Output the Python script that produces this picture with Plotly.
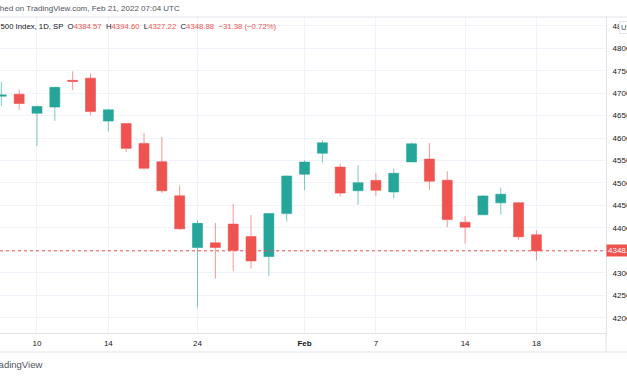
import plotly.graph_objects as go

# ---- data (S&P 500 daily) ----
dates = ["2022-01-03", "2022-01-04", "2022-01-05", "2022-01-06", "2022-01-07",
         "2022-01-10", "2022-01-11", "2022-01-12", "2022-01-13", "2022-01-14",
         "2022-01-18", "2022-01-19", "2022-01-20", "2022-01-21", "2022-01-24",
         "2022-01-25", "2022-01-26", "2022-01-27", "2022-01-28", "2022-01-31",
         "2022-02-01", "2022-02-02", "2022-02-03", "2022-02-04", "2022-02-07",
         "2022-02-08", "2022-02-09", "2022-02-10", "2022-02-11", "2022-02-14",
         "2022-02-15", "2022-02-16", "2022-02-17", "2022-02-18"]
opens = [4778.14, 4804.51, 4787.99, 4693.39, 4697.66,
         4655.34, 4669.14, 4728.59, 4733.56, 4637.99,
         4632.24, 4588.03, 4547.35, 4471.38, 4356.32,
         4366.64, 4408.43, 4380.58, 4336.19, 4431.79,
         4519.57, 4566.39, 4535.41, 4482.79, 4505.75,
         4480.02, 4547.00, 4553.24, 4506.27, 4412.61,
         4429.28, 4455.75, 4456.06, 4384.57]
highs = [4796.64, 4818.62, 4797.70, 4725.01, 4707.95,
         4673.02, 4714.13, 4748.83, 4744.13, 4665.13,
         4632.24, 4611.55, 4602.11, 4494.52, 4417.35,
         4411.01, 4453.23, 4428.74, 4432.72, 4516.89,
         4550.49, 4595.31, 4542.88, 4539.66, 4521.86,
         4531.32, 4590.03, 4588.92, 4526.33, 4426.22,
         4472.77, 4489.55, 4456.06, 4394.60]
lows = [4758.17, 4774.27, 4699.44, 4671.26, 4662.74,
        4582.24, 4638.27, 4706.71, 4650.29, 4614.75,
        4568.70, 4530.20, 4477.95, 4395.34, 4222.62,
        4287.11, 4304.80, 4309.50, 4292.46, 4414.02,
        4483.53, 4544.32, 4470.39, 4451.50, 4471.47,
        4465.40, 4547.00, 4484.31, 4401.41, 4364.84,
        4429.28, 4429.68, 4373.81, 4327.22]
closes = [4796.56, 4793.54, 4700.58, 4696.05, 4677.03,
          4670.29, 4713.07, 4726.35, 4659.03, 4662.85,
          4577.11, 4532.76, 4482.73, 4397.94, 4410.13,
          4356.45, 4349.93, 4326.51, 4431.85, 4515.55,
          4546.54, 4589.38, 4477.44, 4500.53, 4483.87,
          4521.54, 4587.18, 4504.08, 4418.64, 4401.67,
          4471.07, 4475.01, 4380.26, 4348.88]

tick_dates = ["2022-01-10", "2022-01-14", "2022-01-24", "2022-02-01",
              "2022-02-07", "2022-02-14", "2022-02-18"]
tick_labels = ["10", "14", "24", "<b>Feb</b>", "7", "14", "18"]

symbol_name = "S&P 500 Index, 1D, SP"
published = "Published on TradingView.com, Feb 21, 2022 07:04 UTC"

UP = "#26a69a"
DOWN = "#ef5350"
TXT = "#131722"
GRID = "#f0f3fa"
BORDER = "#e0e3eb"
FONT = "Liberation Sans, Arial, sans-serif"
FS = 8

fig = go.Figure()
fig.add_trace(go.Candlestick(
    x=dates, open=opens, high=highs, low=lows, close=closes,
    increasing=dict(fillcolor=UP, line=dict(color="rgba(38,166,154,0.6)", width=1)),
    decreasing=dict(fillcolor=DOWN, line=dict(color="rgba(239,83,80,0.6)", width=1)),
    whiskerwidth=0, hoverinfo="skip", showlegend=False,
))

last_o, last_h, last_l, last_c = opens[-1], highs[-1], lows[-1], closes[-1]
chg = last_c - closes[-2]
pct = chg / closes[-2] * 100
col = UP if chg >= 0 else DOWN
def fmt(v):
    return f"{v:.2f}".replace("-", "\u2212")
legend_txt = (f"<span style='color:{TXT}'>{symbol_name}  O</span><span style='color:{col}'>{last_o:.2f}</span>"
              f"<span style='color:{TXT}'>  H</span><span style='color:{col}'>{last_h:.2f}</span>"
              f"<span style='color:{TXT}'>  L</span><span style='color:{col}'>{last_l:.2f}</span>"
              f"<span style='color:{TXT}'>  C</span><span style='color:{col}'>{last_c:.2f}</span>"
              f"<span style='color:{col}'>  {fmt(chg)} ({fmt(pct)}%)</span>")

W, H = 627, 376
ml, mr, mt, mb = 0, 21, 17, 43
pw = W - ml - mr
ph = H - mt - mb

def px_x(p):
    return (p - ml) / pw
def px_y(p):
    return 1 - (p - mt) / ph

annotations = [
    dict(text=published, xref="paper", yref="paper", x=px_x(182), y=px_y(8),
         xanchor="right", yanchor="middle", showarrow=False,
         font=dict(family=FONT, size=FS, color="#50535e")),
    dict(text=legend_txt, xref="paper", yref="paper", x=px_x(279), y=px_y(27),
         xanchor="right", yanchor="middle", showarrow=False,
         font=dict(family=FONT, size=7.75, color=TXT)),
    dict(text="TradingView", xref="paper", yref="paper", x=px_x(44), y=px_y(364),
         xanchor="right", yanchor="middle", showarrow=False,
         font=dict(family=FONT, size=9.5, color="#50535e")),
    dict(text=f"{last_c:.2f}", xref="paper", yref="y", x=1, y=last_c,
         xanchor="left", yanchor="middle", showarrow=False, bgcolor=DOWN,
         borderpad=1, xshift=0,
         font=dict(family=FONT, size=FS, color="white")),
    dict(text="USD", xref="paper", yref="paper", x=px_x(618.5), y=px_y(28),
         xanchor="left", yanchor="middle", showarrow=False, bgcolor="white",
         bordercolor=BORDER, borderwidth=1, borderpad=1,
         font=dict(family=FONT, size=7.5, color="#50535e")),
]

shapes = [
    dict(type="line", xref="paper", yref="y", x0=0, x1=1, y0=last_c, y1=last_c,
         line=dict(color=DOWN, width=1, dash="dot")),
    dict(type="line", xref="paper", yref="paper", x0=-0.01, x1=1.05, y0=px_y(17), y1=px_y(17),
         line=dict(color=BORDER, width=1)),
    dict(type="line", xref="paper", yref="paper", x0=-0.01, x1=1.05, y0=px_y(352), y1=px_y(352),
         line=dict(color=BORDER, width=1)),
    dict(type="line", xref="paper", yref="paper", x0=1, x1=1, y0=px_y(352), y1=0,
         line=dict(color=BORDER, width=1)),
]

fig.update_layout(
    width=W, height=H,
    margin=dict(l=ml, r=mr, t=mt, b=mb, pad=0, autoexpand=False),
    paper_bgcolor="white", plot_bgcolor="white",
    boxgap=0.2,
    font=dict(family=FONT, size=FS, color=TXT),
    showlegend=False,
    annotations=annotations, shapes=shapes,
    hovermode=False,
    xaxis=dict(type="category", range=[2.926, 36.9], rangeslider=dict(visible=False),
               tickmode="array", tickvals=tick_dates, ticktext=tick_labels,
               showgrid=True, gridcolor=GRID, gridwidth=1,
               showline=True, linecolor=BORDER, linewidth=1, automargin=False,
               ticks="", tickfont=dict(size=FS, color=TXT), fixedrange=True,
               ticklabelstandoff=2),
    yaxis=dict(side="right", range=[4165.9, 4869.7], tick0=4200, dtick=50,
               showgrid=True, gridcolor=GRID, gridwidth=1, automargin=False,
               showline=True, linecolor=BORDER, linewidth=1, zeroline=False,
               ticks="", tickfont=dict(size=FS, color=TXT), fixedrange=True,
               ticklabelstandoff=4),
)

fig.write_html("out.html", config={"displayModeBar": False},
               post_script="document.body.style.margin='0';document.body.style.overflow='hidden';")
